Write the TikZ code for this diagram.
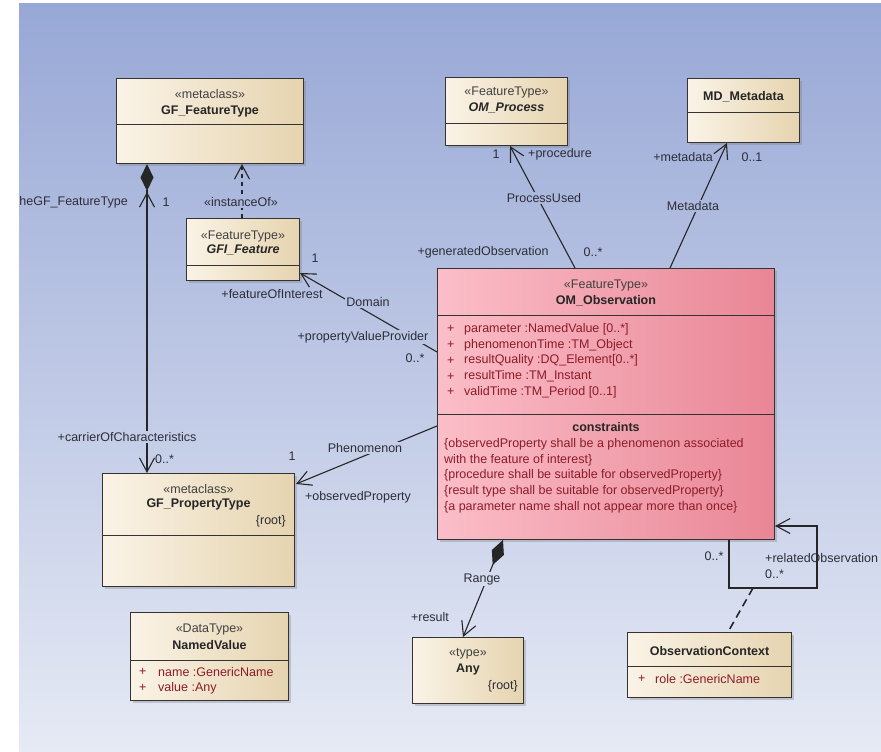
\documentclass[tikz,border=0pt]{standalone}
\usepackage{fontspec}
\setmainfont{Liberation Sans}
\usetikzlibrary{calc}
\usetikzlibrary{positioning}
\usetikzlibrary{arrows.meta}
\usetikzlibrary{shadows}
\definecolor{bgtop}{RGB}{152,168,214}
\definecolor{bgbot}{RGB}{230,234,245}
\definecolor{creamL}{RGB}{250,243,230}
\definecolor{creamR}{RGB}{230,212,176}
\definecolor{pinkL}{RGB}{251,190,200}
\definecolor{pinkR}{RGB}{233,134,150}
\definecolor{attrred}{RGB}{140,28,40}
\definecolor{inktext}{RGB}{45,45,55}
\tikzstyle{classbox} = [draw=black!80, line width=1pt, rectangle, anchor=north west, inner sep=0pt, left color=creamL, right color=creamR, drop shadow={shadow xshift=2.5pt, shadow yshift=-2.5pt, opacity=0.35}]
\tikzstyle{obsbox} = [classbox, left color=pinkL, right color=pinkR]
\tikzstyle{compline} = [draw=black!80, line width=1pt]
\tikzstyle{stereo} = [font=\fontsize{12.5}{15}\selectfont, text=black!75, inner sep=0pt]
\tikzstyle{cname} = [font=\fontsize{12.5}{15}\selectfont\bfseries, text=black!85, inner sep=0pt]
\tikzstyle{attr} = [font=\fontsize{12.5}{15}\selectfont, text=attrred, anchor=west, inner sep=0pt]
\tikzstyle{lbl} = [font=\fontsize{12.5}{15}\selectfont, text=inktext, inner sep=0pt]
\tikzstyle{lblgap} = [lbl, inner sep=1.5pt]
\tikzstyle{assoc} = [draw=black!85, line width=1.1pt]
\tikzstyle{navarrow} = [-{Straight Barb[length=14pt, width=15pt]}]
\tikzstyle{comparrow} = [{Diamond[length=27pt, width=13pt]}-{Straight Barb[length=14pt, width=15pt]}]

\begin{document}
\begin{tikzpicture}[x=1pt, y=-1pt]
  \useasboundingbox (0,0) rectangle (881,752);
  \fill[white] (0,0) rectangle (881,752);
  \shade[top color=bgtop, bottom color=bgbot] (19,4) rectangle (881,752);

  % class boxes
  \node[classbox, minimum width=187pt, minimum height=85pt] (ft) at (116,78) {};
  \node[classbox, minimum width=113pt, minimum height=62pt] (gfi) at (186,218) {};
  \node[classbox, minimum width=122pt, minimum height=68pt] (proc) at (445,77) {};
  \node[classbox, minimum width=112pt, minimum height=64pt] (md) at (687,78) {};
  \node[obsbox, minimum width=337pt, minimum height=271pt] (obs) at (437,268) {};
  \node[classbox, minimum width=192pt, minimum height=113pt] (pt) at (102,473) {};
  \node[classbox, minimum width=158pt, minimum height=88pt] (nv) at (130,612) {};
  \node[classbox, minimum width=111pt, minimum height=66pt] (any) at (412,637) {};
  \node[classbox, minimum width=164pt, minimum height=65pt] (ctx) at (627,632) {};

  % compartments
  \draw[compline] ($(ft.north west)+(0,46)$) -- ($(ft.north east)+(0,46)$);
  \draw[compline] ($(gfi.north west)+(0,47)$) -- ($(gfi.north east)+(0,47)$);
  \draw[compline] ($(proc.north west)+(0,46)$) -- ($(proc.north east)+(0,46)$);
  \draw[compline] ($(md.north west)+(0,34)$) -- ($(md.north east)+(0,34)$);
  \draw[compline] ($(obs.north west)+(0,47)$) -- ($(obs.north east)+(0,47)$);
  \draw[compline] ($(obs.north west)+(0,146)$) -- ($(obs.north east)+(0,146)$);
  \draw[compline] ($(pt.north west)+(0,62)$) -- ($(pt.north east)+(0,62)$);
  \draw[compline] ($(nv.north west)+(0,48)$) -- ($(nv.north east)+(0,48)$);
  \draw[compline] ($(ctx.north west)+(0,34)$) -- ($(ctx.north east)+(0,34)$);

  % class texts
  \node[stereo] (ft_st) at ($(ft.north)+(0,16)$) {«metaclass»};
  \node[cname] (ft_nm) at ($(ft.north)+(0,33)$) {GF\_FeatureType};
  \node[stereo] (gfi_st) at ($(gfi.north)+(0,18)$) {«FeatureType»};
  \node[cname, font=\fontsize{12.5}{15}\selectfont\bfseries\itshape] (gfi_nm) at ($(gfi.north)+(0,32)$) {GFI\_Feature};
  \node[stereo] (proc_st) at ($(proc.north)+(0,15)$) {«FeatureType»};
  \node[cname, font=\fontsize{12.5}{15}\selectfont\bfseries\itshape] (proc_nm) at ($(proc.north)+(0,31)$) {OM\_Process};
  \node[cname] (md_nm) at ($(md.north)+(0,19)$) {MD\_Metadata};
  \node[stereo] (obs_st) at ($(obs.north)+(0,17)$) {«FeatureType»};
  \node[cname] (obs_nm) at ($(obs.north)+(0,33)$) {OM\_Observation};
  \foreach \i/\txt in {0/{parameter :NamedValue [0..*]}, 1/{phenomenonTime :TM\_Object}, 2/{resultQuality :DQ\_Element[0..*]}, 3/{resultTime :TM\_Instant}, 4/{validTime :TM\_Period [0..1]}} {
    \node[attr] (obs_p\i) at ($(obs.north west)+(10,61+15.8*\i)$) {+};
    \node[attr] (obs_a\i) at ($(obs.north west)+(27,61+15.8*\i)$) {\txt};
  }
  \node[cname] (obs_ch) at ($(obs.north)+(0,159)$) {constraints};
  \foreach \i/\txt in {0/{\{observedProperty shall be a phenomenon associated}, 1/{with the feature of interest\}}, 2/{\{procedure shall be suitable for observedProperty\}}, 3/{\{result type shall be suitable for observedProperty\}}, 4/{\{a parameter name shall not appear more than once\}}} {
    \node[attr] (obs_c\i) at ($(obs.north west)+(7,176+15.8*\i)$) {\txt};
  }
  \node[stereo] (pt_st) at ($(pt.north)+(0,16)$) {«metaclass»};
  \node[cname] (pt_nm) at ($(pt.north)+(0,31)$) {GF\_PropertyType};
  \node[lbl, anchor=east] (pt_rt) at ($(pt.north east)+(-9,48)$) {\{root\}};
  \node[stereo] (nv_st) at ($(nv.north)+(0,17)$) {«DataType»};
  \node[cname] (nv_nm) at ($(nv.north)+(0,33)$) {NamedValue};
  \node[attr] (nv_p0) at ($(nv.north west)+(9,60)$) {+};
  \node[attr] (nv_a0) at ($(nv.north west)+(28,60)$) {name :GenericName};
  \node[attr] (nv_p1) at ($(nv.north west)+(9,76)$) {+};
  \node[attr] (nv_a1) at ($(nv.north west)+(28,76)$) {value :Any};
  \node[stereo] (any_st) at ($(any.north)+(0,17)$) {«type»};
  \node[cname] (any_nm) at ($(any.north)+(0,32)$) {Any};
  \node[lbl, anchor=east] (any_rt) at ($(any.north east)+(-6,49)$) {\{root\}};
  \node[cname] (ctx_nm) at ($(ctx.north)+(0,19)$) {ObservationContext};
  \node[attr] (ctx_p0) at ($(ctx.north west)+(11,47)$) {+};
  \node[attr] (ctx_a0) at ($(ctx.north west)+(28,47)$) {role :GenericName};

  % connectors
  \draw[assoc, comparrow] ($(ft.south west)+(31,0)$) -- ($(pt.north west)+(45,0)$);
  \draw[assoc, navarrow] ($(ft.south west)+(31,60)$) -- ($(ft.south west)+(31,28)$);
  \draw[assoc, navarrow, dash pattern=on 4pt off 4pt] ($(gfi.north west)+(56,0)$) -- ($(ft.south west)+(126,0)$);
  \draw[assoc, navarrow] ($(obs.north west)+(0,84)$) -- ($(gfi.south east)+(0,-8)$);
  \draw[assoc, navarrow] ($(obs.north west)+(138,0)$) -- ($(proc.south west)+(65,0)$);
  \draw[assoc, navarrow] ($(obs.north west)+(233,0)$) -- ($(md.south west)+(40,0)$);
  \draw[assoc, navarrow] ($(obs.north west)+(0,158)$) -- ($(pt.north east)+(1,11)$);
  \draw[assoc, comparrow] ($(obs.south west)+(66,0)$) -- ($(any.north west)+(51,0)$);
  \draw[assoc, navarrow] ($(obs.south west)+(292,0)$) |- ($(obs.south east)+(42,48)$) |- ($(obs.south east)+(0,-14)$);
  \coordinate (ctxlink) at ($(obs.south west)+(316,48)$);
  \draw[assoc, line width=1.6pt, dash pattern=on 8pt off 5pt] (ctxlink) -- ($(ctx.north west)+(101,0)$);

  % role names, multiplicities, association names
  \node[lbl, anchor=east] (r_thegft) at (128,202) {heGF\_FeatureType};
  \node[lbl] (m_gft) at (166,202) {1};
  \node[lblgap, fill=bgtop!74!bgbot] (l_inst) at (241,202) {«instanceOf»};
  \node[lblgap, fill=bgtop!42!bgbot] (r_carrier) at (127,437) {+carrierOfCharacteristics};
  \node[lbl, anchor=west] (m_carrier) at (155,459) {0..*};
  \node[lbl] (m_foi) at (315,258) {1};
  \node[lbl] (r_foi) at (272,294) {+featureOfInterest};
  \node[lblgap, fill=bgtop!60!bgbot] (l_domain) at (368,302) {Domain};
  \node[lblgap, fill=bgtop!55!bgbot] (r_pvp) at (363,337) {+propertyValueProvider};
  \node[lbl] (m_pvp) at (415,358) {0..*};
  \node[lbl] (m_proc) at (496,154) {1};
  \node[lbl] (r_proc) at (560,154) {+procedure};
  \node[lblgap, fill=bgtop!74!bgbot] (l_procused) at (544,198) {ProcessUsed};
  \node[lbl] (r_genobs) at (483,252) {+generatedObservation};
  \node[lbl] (m_genobs) at (593,252) {0..*};
  \node[lbl] (r_meta) at (683,157) {+metadata};
  \node[lbl] (m_meta) at (752,157) {0..1};
  \node[lblgap, fill=bgtop!73!bgbot] (l_meta) at (693,206) {Metadata};
  \node[lblgap, fill=bgtop!41!bgbot] (l_phen) at (365,448) {Phenomenon};
  \node[lbl] (m_phen) at (292,456) {1};
  \node[lbl] (r_obsprop) at (358,497) {+observedProperty};
  \node[lblgap, fill=bgtop!23!bgbot] (l_range) at (482,579) {Range};
  \node[lbl] (r_result) at (430,617) {+result};
  \node[lbl] (m_relsrc) at (714,556) {0..*};
  \node[lbl, anchor=west] (r_relobs) at (765,558) {+relatedObservation};
  \node[lbl, anchor=west] (m_relobs) at (765,574) {0..*};
\end{tikzpicture}
\end{document}
